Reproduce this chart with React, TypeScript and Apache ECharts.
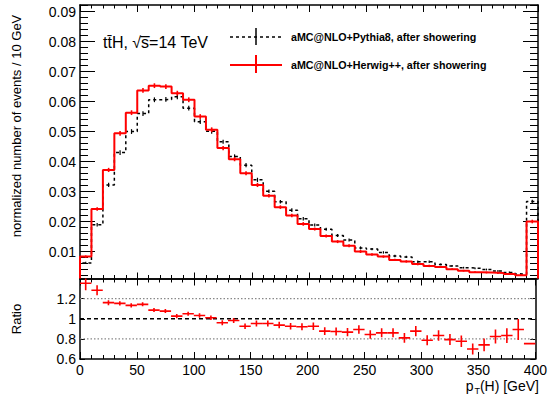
import React, { useEffect, useRef } from "react";
import * as echarts from "echarts";

// ---- data ----
const binEdges = [0, 10, 20, 30, 40, 50, 60, 70, 80, 90, 100, 110, 120, 130, 140, 150, 160, 170, 180, 190, 200, 210, 220, 230, 240, 250, 260, 270, 280, 290, 300, 310, 320, 330, 340, 350, 360, 370, 380, 390];
const binWidth = 10;

const herwigValues = [0.0083, 0.0242, 0.0372, 0.0494, 0.0563, 0.0637, 0.0653, 0.065, 0.0628, 0.0606, 0.055, 0.0506, 0.0445, 0.0408, 0.0361, 0.0322, 0.0286, 0.0248, 0.022, 0.0192, 0.0175, 0.0152, 0.0133, 0.0119, 0.01, 0.009, 0.0083, 0.0072, 0.0067, 0.0058, 0.0052, 0.0048, 0.0041, 0.0036, 0.0031, 0.003, 0.0028, 0.0025, 0.0021, 0.02];
const herwigErrors = [0.0004, 0.0006, 0.0007, 0.0008, 0.0008, 0.0008, 0.0008, 0.0008, 0.0008, 0.0008, 0.0008, 0.0008, 0.0007, 0.0007, 0.0007, 0.0007, 0.0006, 0.0006, 0.0006, 0.0006, 0.0005, 0.0005, 0.0005, 0.0005, 0.0005, 0.0004, 0.0004, 0.0004, 0.0004, 0.0004, 0.0004, 0.0003, 0.0003, 0.0003, 0.0003, 0.0003, 0.0003, 0.0003, 0.0003, 0.0006];

const pythiaValues = [0.0062, 0.0189, 0.0322, 0.043, 0.05, 0.056, 0.0606, 0.0607, 0.0616, 0.0578, 0.0533, 0.0501, 0.0466, 0.0417, 0.0388, 0.0339, 0.0301, 0.0266, 0.0238, 0.0209, 0.0188, 0.0174, 0.0153, 0.0138, 0.0112, 0.0108, 0.0097, 0.0085, 0.0082, 0.0066, 0.0066, 0.0057, 0.0052, 0.0046, 0.0044, 0.004, 0.0035, 0.003, 0.0025, 0.0267];
const pythiaErrors = [0.0004, 0.0006, 0.0007, 0.0008, 0.0008, 0.0008, 0.0008, 0.0008, 0.0008, 0.0008, 0.0008, 0.0008, 0.0007, 0.0007, 0.0007, 0.0007, 0.0006, 0.0006, 0.0006, 0.0006, 0.0005, 0.0005, 0.0005, 0.0005, 0.0005, 0.0004, 0.0004, 0.0004, 0.0004, 0.0004, 0.0004, 0.0003, 0.0003, 0.0003, 0.0003, 0.0003, 0.0003, 0.0003, 0.0003, 0.0006];

const ratioValues = [1.353, 1.283, 1.16, 1.153, 1.133, 1.143, 1.086, 1.076, 1.026, 1.05, 1.033, 1.01, 0.96, 0.983, 0.926, 0.953, 0.953, 0.937, 0.926, 0.92, 0.926, 0.877, 0.873, 0.867, 0.893, 0.843, 0.86, 0.86, 0.81, 0.877, 0.787, 0.833, 0.793, 0.777, 0.7, 0.74, 0.823, 0.833, 0.893, 0.753];
const ratioErrors = [0.07, 0.05, 0.025, 0.022, 0.02, 0.02, 0.02, 0.02, 0.02, 0.02, 0.022, 0.022, 0.025, 0.025, 0.028, 0.03, 0.03, 0.032, 0.033, 0.035, 0.037, 0.038, 0.04, 0.04, 0.042, 0.042, 0.045, 0.045, 0.048, 0.05, 0.05, 0.052, 0.055, 0.057, 0.055, 0.063, 0.07, 0.073, 0.105, 0.005];

const mainYTicks = [0.01, 0.02, 0.03, 0.04, 0.05, 0.06, 0.07, 0.08, 0.09];
const mainYMinorTicks = [0.002, 0.004, 0.006, 0.008, 0.012, 0.014, 0.016, 0.018, 0.022, 0.024, 0.026, 0.028, 0.032, 0.034, 0.036, 0.038, 0.042, 0.044, 0.046, 0.048, 0.052, 0.054, 0.056, 0.058, 0.062, 0.064, 0.066, 0.068, 0.072, 0.074, 0.076, 0.078, 0.082, 0.084, 0.086, 0.088, 0.092];
const ratioGuides = [0.8, 1.2];
const ratioUnity = 1;

const legendLabels = ["aMC@NLO+Pythia8, after showering", "aMC@NLO+Herwig++, after showering"];
const titleText = "tt\u0304H, \u221As\u0305=14 TeV";
const yTitle = "normalized number of events / 10 GeV";
const ratioTitle = "Ratio";

const Y_MIN = 0.001;
const Y_MAX = 0.0922;
const X_MAX = 400;
const FONT = "'Liberation Sans', Arial, Helvetica, sans-serif";

function stepData(values: number[]) {
  const pts: number[][] = [[binEdges[0], Y_MIN]];
  values.forEach((v, i) => pts.push([binEdges[i], v]));
  const last = binEdges[binEdges.length - 1] + binWidth;
  pts.push([last, values[values.length - 1]]);
  pts.push([last, Y_MIN]);
  return pts;
}

function errData(values: number[], errs: number[]) {
  return values.map((v, i) => [binEdges[i] + binWidth / 2, v, errs[i]]);
}

function errRender(color: string, width: number) {
  return (params: any, api: any) => {
    const x = api.value(0);
    const y = api.value(1);
    const e = api.value(2);
    const p1 = api.coord([x, y - e]);
    const p2 = api.coord([x, y + e]);
    return {
      type: "line",
      shape: { x1: p1[0], y1: p1[1], x2: p2[0], y2: p2[1] },
      style: { stroke: color, lineWidth: width },
    };
  };
}

function crossRender(params: any, api: any) {
  const x = api.value(0);
  const y = api.value(1);
  const e = api.value(2);
  const l = api.coord([x - binWidth / 2, y]);
  const r = api.coord([x + binWidth / 2, y]);
  const b = api.coord([x, y - e]);
  const t = api.coord([x, y + e]);
  return {
    type: "group",
    children: [
      { type: "line", shape: { x1: l[0], y1: l[1], x2: r[0], y2: r[1] }, style: { stroke: "#ff0000", lineWidth: 1.6 } },
      { type: "line", shape: { x1: b[0], y1: b[1], x2: t[0], y2: t[1] }, style: { stroke: "#ff0000", lineWidth: 1.6 } },
    ],
  };
}

const axisLineStyle = { color: "#000", width: 1.5 };
const labelStyle = { fontFamily: FONT, fontSize: 14, color: "#000" };

export default function App() {
  const ref = useRef<HTMLDivElement>(null);
  useEffect(() => {
    document.body.style.margin = "0";
    const chart = echarts.init(ref.current!, null, { renderer: "svg" });
    const xCommon = (gridIndex: number, position: string, tickLen: number, minorLen: number, showLabel: boolean) => ({
      type: "value",
      gridIndex,
      position,
      min: 0,
      max: X_MAX,
      interval: 50,
      axisLine: { show: true, onZero: false, lineStyle: axisLineStyle },
      axisTick: { show: true, inside: true, length: tickLen, lineStyle: { color: "#000", width: 1 } },
      minorTick: { show: true, splitNumber: 5, length: minorLen, lineStyle: { color: "#000", width: 1 } },
      axisLabel: { show: showLabel, margin: 4, ...labelStyle },
      splitLine: { show: false },
    });
    const yMain = (position: string, values: number[], len: number, showLine: boolean, showLabel: boolean) => ({
      type: "value",
      gridIndex: 0,
      position,
      min: Y_MIN,
      max: Y_MAX,
      axisLine: { show: showLine, onZero: false, lineStyle: axisLineStyle },
      axisTick: { show: true, inside: true, length: len, customValues: values, lineStyle: { color: "#000", width: 1 } },
      axisLabel: {
        show: showLabel,
        customValues: values,
        margin: 4,
        formatter: (v: number) => v.toFixed(2),
        ...labelStyle,
      },
      splitLine: { show: false },
    });
    const yRatio = (position: string, showLabel: boolean) => ({
      type: "value",
      gridIndex: 1,
      position,
      min: 0.6,
      max: 1.4,
      interval: 0.2,
      axisLine: { show: true, onZero: false, lineStyle: axisLineStyle },
      axisTick: { show: true, inside: true, length: 5, lineStyle: { color: "#000", width: 1 } },
      axisLabel: { show: showLabel, margin: 4, showMaxLabel: false, ...labelStyle },
      splitLine: { show: false },
    });

    const option: any = {
      animation: false,
      backgroundColor: "#fff",
      grid: [
        { left: 80, right: 12, top: 5, height: 273.5 },
        { left: 80, right: 12, top: 278.5, height: 80.5 },
      ],
      xAxis: [
        xCommon(0, "bottom", 6, 3.5, false),
        xCommon(0, "top", 7, 3.5, false),
        xCommon(1, "bottom", 7, 4, true),
        xCommon(1, "top", 7, 4, false),
      ],
      yAxis: [
        yMain("left", mainYTicks, 15, true, true),
        yMain("left", mainYMinorTicks, 8, false, false),
        yMain("right", mainYTicks, 15, true, false),
        yMain("right", mainYMinorTicks, 8, false, false),
        yRatio("left", true),
        yRatio("right", false),
      ],
      series: [
        {
          type: "line",
          name: legendLabels[0],
          xAxisIndex: 0,
          yAxisIndex: 0,
          step: "end",
          symbol: "none",
          data: stepData(pythiaValues),
          lineStyle: { color: "#000", width: 1.5, type: [3, 3] },
          z: 3,
        },
        {
          type: "custom",
          xAxisIndex: 0,
          yAxisIndex: 0,
          renderItem: errRender("#000", 1.2),
          data: errData(pythiaValues, pythiaErrors),
          z: 3,
        },
        {
          type: "line",
          name: legendLabels[1],
          xAxisIndex: 0,
          yAxisIndex: 0,
          step: "end",
          symbol: "none",
          data: stepData(herwigValues),
          lineStyle: { color: "#ff0000", width: 2 },
          z: 4,
        },
        {
          type: "custom",
          xAxisIndex: 0,
          yAxisIndex: 0,
          renderItem: errRender("#ff0000", 1.6),
          data: errData(herwigValues, herwigErrors),
          z: 4,
        },
        ...ratioGuides.map((g) => ({
          type: "line",
          xAxisIndex: 2,
          yAxisIndex: 4,
          symbol: "none",
          data: [[0, g], [X_MAX, g]],
          lineStyle: { color: "#888", width: 1.2, type: [1.5, 2] },
          z: 2,
        })),
        {
          type: "line",
          xAxisIndex: 2,
          yAxisIndex: 4,
          symbol: "none",
          data: [[0, ratioUnity], [X_MAX, ratioUnity]],
          lineStyle: { color: "#000", width: 1.3, type: [4, 3] },
          z: 2,
        },
        {
          type: "custom",
          xAxisIndex: 2,
          yAxisIndex: 4,
          clip: true,
          renderItem: crossRender,
          data: errData(ratioValues, ratioErrors),
          z: 5,
        },
      ],
      graphic: [
        {
          type: "text",
          x: 103,
          y: 42,
          style: { text: titleText, fontFamily: FONT, fontSize: 16, fill: "#000", verticalAlign: "middle" },
        },
        {
          type: "line",
          shape: { x1: 230, y1: 37, x2: 282, y2: 37 },
          style: { stroke: "#000", lineWidth: 1.5, lineDash: [3, 3] },
        },
        {
          type: "line",
          shape: { x1: 256, y1: 28, x2: 256, y2: 45 },
          style: { stroke: "#000", lineWidth: 1.5 },
        },
        {
          type: "line",
          shape: { x1: 230, y1: 65, x2: 282, y2: 65 },
          style: { stroke: "#ff0000", lineWidth: 2 },
        },
        {
          type: "line",
          shape: { x1: 256, y1: 55, x2: 256, y2: 73 },
          style: { stroke: "#ff0000", lineWidth: 2 },
        },
        {
          type: "text",
          x: 291,
          y: 37,
          style: { text: legendLabels[0], fontFamily: FONT, fontSize: 10.7, fontWeight: "bold", fill: "#000", verticalAlign: "middle" },
        },
        {
          type: "text",
          x: 291,
          y: 65,
          style: { text: legendLabels[1], fontFamily: FONT, fontSize: 10.7, fontWeight: "bold", fill: "#000", verticalAlign: "middle" },
        },
        {
          type: "text",
          x: 16,
          y: 126,
          rotation: Math.PI / 2,
          style: { text: yTitle, fontFamily: FONT, fontSize: 13, fill: "#000", align: "center", verticalAlign: "middle" },
        },
        {
          type: "text",
          x: 16,
          y: 319,
          rotation: Math.PI / 2,
          style: { text: ratioTitle, fontFamily: FONT, fontSize: 13, fill: "#000", align: "center", verticalAlign: "middle" },
        },
        {
          type: "text",
          x: 473.5,
          y: 386,
          style: { text: "p", fontFamily: FONT, fontSize: 14, fill: "#000", align: "right", verticalAlign: "middle" },
        },
        {
          type: "text",
          x: 474.5,
          y: 391,
          style: { text: "T", fontFamily: FONT, fontSize: 9, fill: "#000", align: "left", verticalAlign: "middle" },
        },
        {
          type: "text",
          x: 539,
          y: 386,
          style: { text: "(H) [GeV]", fontFamily: FONT, fontSize: 14, fill: "#000", align: "right", verticalAlign: "middle" },
        },
      ],
    };
    chart.setOption(option);
    return () => chart.dispose();
  }, []);
  return <div ref={ref} style={{ width: 550, height: 399 }} />;
}
